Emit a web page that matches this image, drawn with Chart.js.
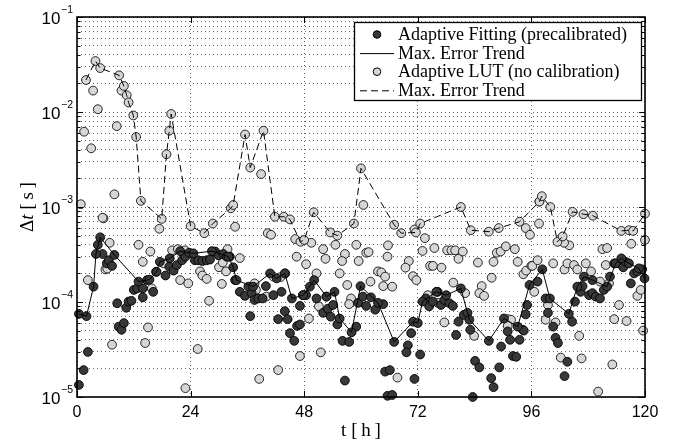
<!DOCTYPE html>
<html>
<head>
<meta charset="utf-8">
<script src="https://cdn.jsdelivr.net/npm/chart.js@4/dist/chart.umd.min.js"></script>
<style>
  html, body { margin: 0; padding: 0; background: #fff; }
</style>
</head>
<body>
<canvas id="chart" width="682" height="444"></canvas>
<script>
// Datos: [t en horas, error en segundos]
const xTickVals = [0, 24, 48, 72, 96, 120];
const decades = [1e-5, 1e-4, 1e-3, 1e-2, 1e-1];
const decadeLabels = ['−5', '−4', '−3', '−2', '−1'];

// Adaptive Fitting (precalibrated) - puntos
const fitPoints = [
  [0.4,1.34e-5],[1.4,1.92e-5],[2.3,2.98e-5],[4.4,4.0e-4],[5.4,3.2e-4],[6.3,2.55e-4],[6.7,2.75e-4],[7.4,2.4e-4],
  [8.5,9.7e-5],[8.8,5.5e-5],[9.4,5.1e-5],[9.9,6.0e-5],[10.4,8.7e-5],[10.9,1.01e-4],[11.5,1.03e-4],[12.0,1.34e-4],
  [12.7,1.39e-4],[13.9,1.12e-4],[13.9,1.39e-4],[14.8,1.7e-4],[16.1,1.28e-4],[16.7,2.08e-4],[18.7,1.9e-4],[19.5,2.35e-4],
  [20.4,2.14e-4],[21.1,2.45e-4],[22.2,2.75e-4],[22.9,3.0e-4],[23.7,3.3e-4],[24.9,2.75e-4],[25.6,2.75e-4],[26.5,2.7e-4],
  [27.4,2.75e-4],[28.1,2.8e-4],[29.2,3.4e-4],[29.9,3.1e-4],[30.9,3.2e-4],[31.6,3.0e-4],[32.3,3.0e-4],[33.4,1.7e-4],
  [34.4,1.28e-4],[35.5,1.16e-4],[36.2,1.45e-4],[36.9,1.24e-4],[37.5,1.05e-4],[38.3,1.09e-4],[39.2,1.09e-4],[39.9,1.47e-4],
  [41.5,1.18e-4],[43.2,1.28e-4],[36.6,7.1e-5],[42.5,6.6e-5],[43.9,8.0e-5],[44.5,6.6e-5],[46.5,5.6e-5],[45.0,4.7e-5],
  [45.9,3.9e-5],[47.1,9.1e-5],[47.1,5.8e-5],[47.7,1.18e-4],[48.4,1.18e-4],[49.2,1.45e-4],[50.6,1.09e-4],[52.0,7.7e-5],
  [53.0,8.5e-5],[53.6,7.0e-5],[54.1,9.3e-5],[55.0,5.8e-5],[56.1,3.9e-5],[57.5,3.8e-5],[56.6,1.49e-5],[59.0,5.5e-5],
  [59.4,9.8e-5],[60.4,1.14e-4],[61.1,9.1e-5],[62.1,1.12e-4],[63.0,8.3e-5],[64.7,9.5e-5],[65.1,1.85e-5],[66.1,1.92e-5],
  [65.6,1.03e-5],[66.6,1.05e-5],[69.9,3.5e-5],[69.6,2.95e-5],[71.3,1.55e-5],[70.6,4.7e-5],[72.5,2.8e-5],[73.7,1.09e-4],
  [74.4,9.0e-5],[75.2,1.01e-4],[76.2,1.28e-4],[76.9,9.3e-5],[77.6,1.05e-4],[78.7,9.7e-5],[79.4,9.1e-5],[80.1,4.5e-5],
  [80.6,6.2e-5],[81.7,7.3e-5],[82.5,7.7e-5],[83.1,5.1e-5],[84.1,2.4e-5],[85.0,2.05e-5],[83.6,1.0e-5],[87.5,1.58e-5],
  [88.0,1.27e-5],[89.2,2.05e-5],[89.6,3.4e-5],[91.0,4.9e-5],[91.5,4.0e-5],[92.1,2.7e-5],[92.8,2.65e-5],[93.5,4.0e-5],
  [94.2,5.1e-5],[95.1,9.3e-5],[94.8,7.4e-5],[94.4,5.0e-5],[97.3,1.64e-4],[99.0,1.09e-4],[99.5,7.7e-5],[100.6,5.5e-5],
  [101.1,4.2e-5],[101.6,3.7e-5],[103.6,2.35e-5],[103.0,1.66e-5],[104.6,6.2e-5],[105.2,1.01e-4],[106.4,1.28e-4],[106.8,1.47e-4],
  [108.2,1.18e-4],[108.9,1.24e-4],[109.6,1.14e-4],[110.5,1.09e-4],[111.3,1.34e-4],[112.6,1.85e-4],[113.5,2.55e-4],[114.5,2.55e-4],
  [115.4,2.32e-4],[115.9,2.65e-4],[117.0,1.57e-4],[117.7,2.0e-4],[118.4,2.1e-4],[119.4,2.21e-4]
];

// Adaptive Fitting - tendencia del error máximo
const fitTrend = [
  [0.4,7.5e-5],[2.0,7.1e-5],[3.5,1.45e-4],[4.0,3.2e-4],[4.9,4.8e-4],[7.9,3.13e-4],[13.0,1.64e-4],[15.3,1.72e-4],
  [16.8,2.08e-4],[17.5,2.65e-4],[19.6,2.88e-4],[21.8,3.43e-4],[24.6,3.25e-4],[28.5,3.43e-4],[32.0,3.0e-4],[33.0,2.32e-4],
  [33.7,1.7e-4],[37.2,1.45e-4],[40.8,2.0e-4],[42.2,1.77e-4],[43.9,2.0e-4],[45.4,1.09e-4],[47.8,1.18e-4],[50.1,1.7e-4],
  [52.7,1.14e-4],[54.4,1.28e-4],[55.5,6.7e-5],[58.0,4.8e-5],[59.9,1.47e-4],[63.6,9.8e-5],[67.0,3.8e-5],[71.0,6.2e-5],
  [72.0,6.0e-5],[73.0,1.01e-4],[75.9,1.28e-4],[78.0,1.18e-4],[81.1,1.39e-4],[82.9,6.5e-5],[87.0,3.9e-5],[90.2,6.7e-5],
  [93.1,5.5e-5],[95.6,1.51e-4],[98.3,2.21e-4],[99.9,1.09e-4],[103.9,7.5e-5],[105.7,1.45e-4],[107.1,1.85e-4],[108.9,1.7e-4],
  [112.0,1.45e-4],[113.8,2.55e-4],[115.0,2.88e-4],[116.6,2.55e-4],[118.7,2.26e-4],[119.9,1.77e-4]
];

// Adaptive LUT (no calibration) - puntos
const lutPoints = [
  [1.5,6.2e-3],[3.0,4.15e-3],[3.4,1.68e-2],[4.4,1.07e-2],[8.4,7.1e-3],[7.9,1.36e-3],[9.4,1.68e-2],[0.8,1.07e-3],
  [5.6,7.6e-4],[38.9,2.22e-3],[60.5,1.05e-3],[97.7,1.14e-3],[5.4,7.7e-4],[17.4,5.9e-4],[13.0,4.0e-4],[13.9,2.65e-4],
  [15.5,3.4e-4],[6.9,4.2e-4],[6.0,2.2e-4],[6.4,2.25e-4],[2.3,1.7e-4],[7.4,3.55e-5],[14.4,3.7e-5],[15.0,5.4e-5],
  [15.8,1.39e-4],[18.3,2.55e-4],[20.1,3.5e-4],[21.3,3.6e-4],[22.8,3.5e-4],[21.8,1.7e-4],[23.5,1.57e-4],[22.9,1.24e-5],
  [26.0,2.1e-4],[26.5,1.9e-4],[27.4,1.75e-4],[27.9,1.03e-4],[30.0,2.32e-4],[30.6,1.55e-4],[31.5,2.1e-4],[31.8,3.6e-4],
  [30.8,2.6e-4],[34.4,2.9e-4],[33.4,6.2e-4],[40.3,5.3e-4],[41.0,5.1e-4],[46.1,4.6e-4],[46.4,3.0e-4],[37.5,1.57e-4],
  [37.8,1.34e-4],[40.0,1.14e-4],[41.5,1.85e-4],[43.0,1.83e-4],[44.0,2.0e-4],[25.5,3.2e-5],[42.5,1.92e-5],[38.5,1.55e-5],
  [47.1,2.7e-5],[49.5,4.2e-4],[48.4,2.5e-4],[52.0,3.6e-4],[52.5,2.85e-4],[54.6,4.0e-4],[56.6,3.2e-4],[56.0,2.7e-4],
  [59.0,4.0e-4],[59.5,2.7e-4],[61.1,3.3e-4],[61.6,3.35e-4],[55.5,2.0e-4],[50.6,2.0e-4],[65.7,3.95e-4],[65.6,3.0e-4],
  [70.1,2.7e-4],[69.4,2.3e-4],[71.0,1.87e-4],[63.6,2.1e-4],[64.3,2.05e-4],[65.1,1.85e-4],[64.7,1.47e-4],[66.6,1.45e-4],
  [62.0,1.64e-4],[57.1,1.51e-4],[57.9,1.09e-4],[57.5,9.5e-5],[51.1,9.0e-5],[52.7,1.14e-4],[49.0,6.7e-5],[51.5,2.95e-5],
  [67.7,1.6e-5],[71.7,1.7e-4],[71.3,5.8e-4],[73.5,4.7e-4],[73.0,3.45e-4],[75.5,3.7e-4],[74.6,2.4e-4],[75.2,2.4e-4],
  [77.0,2.3e-4],[78.2,3.5e-4],[79.1,3.5e-4],[79.9,3.5e-4],[80.6,2.85e-4],[81.5,3.4e-4],[84.7,2.6e-4],[79.5,1.6e-4],
  [85.5,1.47e-4],[85.0,1.24e-4],[86.0,1.16e-4],[87.6,1.8e-4],[88.0,2.65e-4],[88.7,3.3e-4],[89.5,3.4e-4],[90.6,3.85e-4],
  [92.5,3.6e-4],[93.1,2.65e-4],[94.3,1.96e-4],[94.9,2.14e-4],[96.0,2.4e-4],[74.1,1.18e-4],[76.2,9.8e-5],[77.6,6.1e-5],
  [82.0,1.24e-4],[83.9,4.4e-5],[91.0,6.6e-5],[91.7,6.5e-5],[91.0,5.6e-5],[94.8,6.0e-4],[95.7,5.1e-4],[97.6,6.7e-4],
  [96.2,2.4e-4],[97.3,2.75e-4],[100.6,2.55e-4],[103.0,2.2e-4],[103.6,2.55e-4],[105.0,2.45e-4],[105.7,2.2e-4],[107.5,2.55e-4],
  [108.6,2.1e-4],[111.7,2.45e-4],[111.0,3.6e-4],[112.0,3.7e-4],[104.0,3.95e-4],[102.9,4.2e-4],[117.1,4.1e-4],[120.0,4.5e-4],
  [96.6,1.28e-4],[99.5,9.3e-5],[99.0,6.5e-5],[101.1,6.1e-5],[106.1,4.4e-5],[102.2,2.6e-5],[106.6,2.55e-5],[110.1,1.14e-5],
  [113.1,2.2e-5],[114.5,9.3e-5],[113.5,6.6e-5],[116.1,6.3e-5],[118.4,1.16e-4],[119.1,1.34e-4],[119.6,5.0e-5],[110.5,1.64e-4],
  [112.4,1.57e-4]
];

// Adaptive LUT - tendencia del error máximo
const lutTrend = [
  [1.9,2.17e-2],[3.9,3.44e-2],[4.9,2.9e-2],[8.9,2.43e-2],[9.9,1.88e-2],[10.5,1.5e-2],[10.9,1.26e-2],[11.9,9.2e-3],
  [12.5,5.46e-3],[13.5,1.16e-3],[17.9,7.5e-4],[18.9,3.59e-3],[19.5,6.35e-3],[19.9,9.53e-3],[24.0,6.3e-4],[26.9,5.3e-4],
  [28.7,6.7e-4],[32.5,9.7e-4],[33.0,1.05e-3],[35.5,5.8e-3],[36.6,2.6e-3],[39.4,6.35e-3],[41.8,7.9e-4],[43.7,7.9e-4],
  [45.0,7.4e-4],[47.2,4.3e-4],[48.0,4.5e-4],[50.0,8.8e-4],[53.5,5.4e-4],[55.0,5.0e-4],[58.5,6.7e-4],[60.0,2.55e-3],
  [67.0,6.5e-4],[68.5,5.3e-4],[71.6,5.4e-4],[72.5,6.7e-4],[81.1,1.0e-3],[83.2,5.7e-4],[87.0,5.5e-4],[89.1,6.0e-4],
  [93.5,7.0e-4],[97.7,1.14e-3],[98.2,1.3e-3],[100.0,1.0e-3],[101.5,4.3e-4],[102.6,4.9e-4],[104.7,8.9e-4],[107.0,8.4e-4],
  [109.0,8.1e-4],[115.0,5.6e-4],[116.6,5.7e-4],[117.5,5.6e-4],[120.0,8.5e-4]
];

const toXY = arr => arr.map(p => ({ x: p[0], y: p[1] }));

// líneas de la rejilla logarítmica (1..9 por década)
const yGridVals = [];
decades.forEach(d => {
  for (let m = 1; m <= 9; m++) {
    const v = d * m;
    if (v <= 0.1000001) yGridVals.push(v);
  }
});

const darkFill = '#383838';
const lightFill = '#d6d6d6';
const serif = '"Liberation Serif", "DejaVu Serif", serif';
const sans = '"Liberation Sans", Arial, sans-serif';

// Marco, marcas internas, etiquetas del eje y, títulos y leyenda
const framePlugin = {
  id: 'frame',
  afterDraw(chart) {
    const { ctx, chartArea: a, scales: { x, y } } = chart;
    ctx.save();
    ctx.strokeStyle = '#000';
    ctx.lineWidth = 1;
    // marcas hacia dentro
    yGridVals.forEach(v => {
      const py = Math.round(y.getPixelForValue(v)) + 0.5;
      const len = decades.includes(v) ? 6 : 3.5;
      ctx.beginPath();
      ctx.moveTo(a.left, py); ctx.lineTo(a.left + len, py);
      ctx.moveTo(a.right, py); ctx.lineTo(a.right - len, py);
      ctx.stroke();
    });
    xTickVals.forEach(v => {
      const px = Math.round(x.getPixelForValue(v)) + 0.5;
      ctx.beginPath();
      ctx.moveTo(px, a.bottom); ctx.lineTo(px, a.bottom - 6);
      ctx.moveTo(px, a.top); ctx.lineTo(px, a.top + 6);
      ctx.stroke();
    });
    // marco
    ctx.lineWidth = 1.6;
    ctx.strokeRect(a.left, a.top, a.right - a.left, a.bottom - a.top);

    // etiquetas 10^n
    ctx.fillStyle = '#000';
    ctx.textBaseline = 'alphabetic';
    decades.forEach((d, i) => {
      const py = y.getPixelForValue(d);
      ctx.font = '10.5px ' + sans;
      const ew = ctx.measureText(decadeLabels[i]).width;
      const right = a.left - 4;
      ctx.textAlign = 'left';
      ctx.fillText(decadeLabels[i], right - ew, py - 4);
      ctx.font = '17px ' + sans;
      ctx.textAlign = 'right';
      ctx.fillText('10', right - ew - 0.5, py + 7);
    });

    // título eje x
    ctx.font = '19px ' + serif;
    ctx.textAlign = 'center';
    ctx.fillText('t [\u2009h\u2009]', (a.left + a.right) / 2, 436);

    // título eje y (rotado)
    ctx.save();
    ctx.translate(33, 207);
    ctx.rotate(-Math.PI / 2);
    const parts = [['Δ', '19px ' + serif], ['t', 'italic 19px ' + serif], [' [\u2009s\u2009]', '19px ' + serif]];
    let total = 0;
    parts.forEach(p => { ctx.font = p[1]; total += ctx.measureText(p[0]).width; });
    let cx = -total / 2;
    ctx.textAlign = 'left';
    parts.forEach(p => { ctx.font = p[1]; ctx.fillText(p[0], cx, 0); cx += ctx.measureText(p[0]).width; });
    ctx.restore();

    // leyenda
    const lx = 354, ly = 22, lw = 287, lh = 78;
    ctx.fillStyle = '#fff';
    ctx.fillRect(lx, ly, lw, lh);
    ctx.lineWidth = 1.3;
    ctx.strokeStyle = '#000';
    ctx.strokeRect(lx + 0.5, ly + 0.5, lw, lh);
    const rows = [
      { text: 'Adaptive Fitting (precalibrated)', kind: 'dot', fill: darkFill },
      { text: 'Max. Error Trend', kind: 'line', dash: [] },
      { text: 'Adaptive LUT (no calibration)', kind: 'dot', fill: lightFill },
      { text: 'Max. Error Trend', kind: 'line', dash: [7, 4] }
    ];
    rows.forEach((r, i) => {
      const ry = ly + 12.5 + i * 18.6;
      if (r.kind === 'dot') {
        ctx.beginPath();
        ctx.arc(377, ry, 3.8, 0, Math.PI * 2);
        ctx.fillStyle = r.fill;
        ctx.fill();
        ctx.lineWidth = 1;
        ctx.strokeStyle = '#000';
        ctx.stroke();
      } else {
        ctx.beginPath();
        ctx.setLineDash(r.dash);
        ctx.lineWidth = 1;
        ctx.strokeStyle = '#000';
        ctx.moveTo(360, ry + 0.5);
        ctx.lineTo(394, ry + 0.5);
        ctx.stroke();
        ctx.setLineDash([]);
      }
      ctx.fillStyle = '#000';
      ctx.font = '18px ' + serif;
      ctx.textAlign = 'left';
      ctx.textBaseline = 'middle';
      ctx.fillText(r.text, 398, ry + 1);
    });
    ctx.restore();
  }
};

const ctx = document.getElementById('chart').getContext('2d');
new Chart(ctx, {
  type: 'scatter',
  data: {
    datasets: [
      {
        label: 'Max. Error Trend',
        type: 'line',
        data: toXY(fitTrend),
        borderColor: '#000',
        borderWidth: 1,
        pointRadius: 0,
        fill: false,
        tension: 0,
        order: 1
      },
      {
        label: 'Max. Error Trend',
        type: 'line',
        data: toXY(lutTrend),
        borderColor: '#000',
        borderWidth: 1,
        borderDash: [7, 4],
        pointRadius: 0,
        fill: false,
        tension: 0,
        order: 2
      },
      {
        label: 'Adaptive Fitting (precalibrated)',
        data: toXY(fitPoints.concat(fitTrend)),
        backgroundColor: darkFill,
        borderColor: '#000',
        borderWidth: 0.9,
        pointRadius: 4.4,
        clip: false,
        order: 3
      },
      {
        label: 'Adaptive LUT (no calibration)',
        data: toXY(lutPoints.concat(lutTrend)),
        backgroundColor: lightFill,
        borderColor: '#111',
        borderWidth: 0.9,
        pointRadius: 4.4,
        clip: false,
        order: 4
      }
    ]
  },
  options: {
    responsive: false,
    animation: false,
    layout: { padding: { top: 17, right: 37, left: 0, bottom: 0 } },
    plugins: {
      legend: { display: false },
      tooltip: { enabled: false }
    },
    scales: {
      x: {
        type: 'linear',
        min: 0,
        max: 120,
        afterBuildTicks: scale => { scale.ticks = xTickVals.map(v => ({ value: v })); },
        afterFit: scale => { scale.height = 47; },
        ticks: { color: '#000', font: { family: sans, size: 16 }, padding: 6 },
        grid: { color: '#555', lineWidth: 0.9, drawTicks: false },
        border: { display: false, dash: [1, 3] }
      },
      y: {
        type: 'logarithmic',
        min: 1e-5,
        max: 1e-1,
        afterBuildTicks: scale => { scale.ticks = yGridVals.map(v => ({ value: v })); },
        afterFit: scale => { scale.width = 77; },
        ticks: { display: false },
        grid: { color: '#555', lineWidth: 0.9, drawTicks: false },
        border: { display: false, dash: [1, 3] }
      }
    }
  },
  plugins: [framePlugin]
});
</script>
</body>
</html>
